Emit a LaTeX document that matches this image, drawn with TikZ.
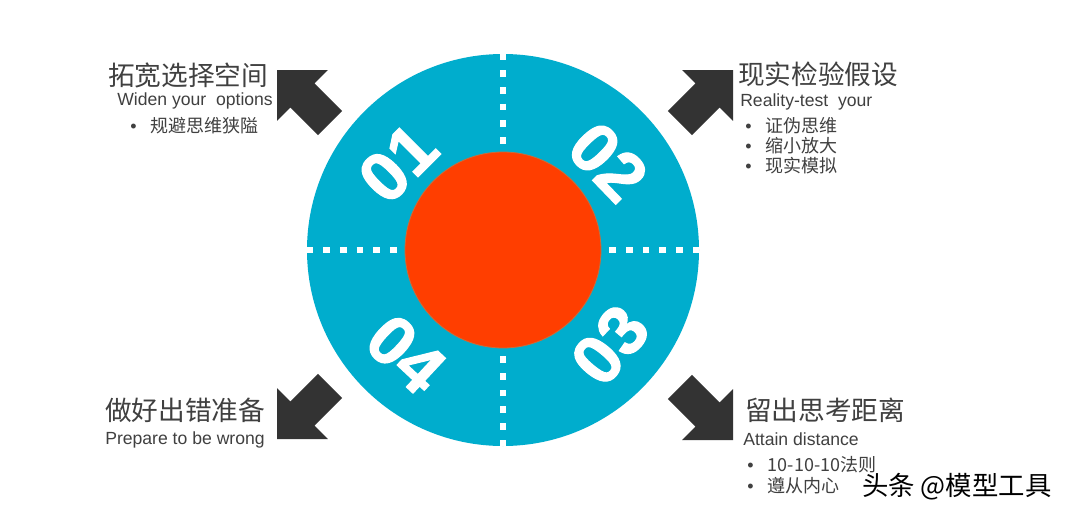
\documentclass[tikz,border=0pt]{standalone}
\usepackage{fontspec}
\setmainfont{Liberation Sans}
\newfontfamily\cjk{Noto Sans CJK SC}
\newfontfamily\numfont{Liberation Sans}[BoldFeatures={FakeBold=1.6}]

\definecolor{discblue}{RGB}{0,173,205}
\definecolor{coreorange}{RGB}{255,62,0}
\definecolor{arrowgray}{RGB}{51,51,51}
\definecolor{textgray}{RGB}{64,64,64}

\tikzset{
  head/.style={anchor=west, inner sep=0pt, text=textgray, font=\cjk\fontsize{20}{24}\selectfont},
  eng/.style={anchor=base west, inner sep=0pt, text=textgray, font=\fontsize{13.2}{16}\selectfont},
  item/.style={anchor=west, inner sep=0pt, text=textgray, font=\cjk\fontsize{13.5}{16}\selectfont},
  num/.style={inner sep=0pt, text=white, font=\numfont\fontsize{52}{52}\selectfont\bfseries},
  dots/.style={white, line width=5pt, dash pattern=on 5pt off 7.5pt},
  blockarrow/.style={fill=arrowgray},
}
\newcommand\itm[1]{\makebox[15.5pt][l]{\rmfamily\textbullet}#1}

\begin{document}
\begin{tikzpicture}[x=0.75pt,y=0.75pt,yscale=-1,xscale=1]
\useasboundingbox (0,0) rectangle (1072,518);
\fill[white] (0,0) rectangle (1072,518);

%Shape: Circle
\node (disc) [circle, fill=discblue, minimum size=294pt, inner sep=0pt] at (503,250) {};
%Dotted Lines
\draw[dots] (disc.north) -- (disc.center);
\draw[dots] (disc.south) -- (disc.center);
\draw[dots] (disc.west) -- (disc.center);
\draw[dots] (disc.east) -- (disc.center);
%Shape: Circle
\node (core) [circle, fill=coreorange, draw={rgb,255:red,200;green,110;blue,60}, line width=0.6pt, minimum size=147pt, inner sep=0pt] at (disc.center) {};

% Numbers
\node (n1) [num, rotate=45] at (398,163) {01};
\node (n2) [num, rotate=-46] at (608,162) {02};
\node (n3) [num, rotate=50] at (610,345) {03};
\node (n4) [num, rotate=-43] at (406,354) {04};

%Shape: Arrows
\fill[blockarrow, shift={(277,70)}, rotate=-135] (0,0) -- (-36,36) -- (-36,17) -- (-75,17) -- (-75,-17) -- (-36,-17) -- (-36,-36) -- cycle;
\fill[blockarrow, shift={(733,70)}, rotate=-45] (0,0) -- (-36,36) -- (-36,17) -- (-75,17) -- (-75,-17) -- (-36,-17) -- (-36,-36) -- cycle;
\fill[blockarrow, shift={(733,440)}, rotate=45] (0,0) -- (-36,36) -- (-36,17) -- (-75,17) -- (-75,-17) -- (-36,-17) -- (-36,-36) -- cycle;
\fill[blockarrow, shift={(277,439)}, rotate=135] (0,0) -- (-36,36) -- (-36,17) -- (-75,17) -- (-75,-17) -- (-36,-17) -- (-36,-36) -- cycle;

% Text Node
\node (h1) [head] at (108,75) {拓宽选择空间};
\node (e1) [eng] at (117,105) {Widen your \ options};
\node (b1a) [item] at (130,126) {\itm{规避思维狭隘}};
% Text Node
\node (h2) [head] at (738,74) {现实检验假设};
\node (e2) [eng] at (740,106) {Reality-test \ your};
\node (b2a) [item] at (745,126) {\itm{证伪思维}};
\node (b2b) [item] at (745,146) {\itm{缩小放大}};
\node (b2c) [item] at (745,166) {\itm{现实模拟}};
% Text Node
\node (h3) [head] at (745,410.5) {留出思考距离};
\node (e3) [eng] at (743,445) {Attain distance};
\node (b3a) [item] at (747,465) {\itm{10-10-10法则}};
\node (b3b) [item] at (747,486) {\itm{遵从内心}};
% Text Node
\node (h4) [head] at (105,410.5) {做好出错准备};
\node (e4) [eng] at (105,444) {Prepare to be wrong};
% Text Node
\node (mark) [anchor=west, inner sep=0pt, font=\cjk\fontsize{19.8}{22}\selectfont] at (862,487) {头条 @模型工具};

\end{tikzpicture}
\end{document}
